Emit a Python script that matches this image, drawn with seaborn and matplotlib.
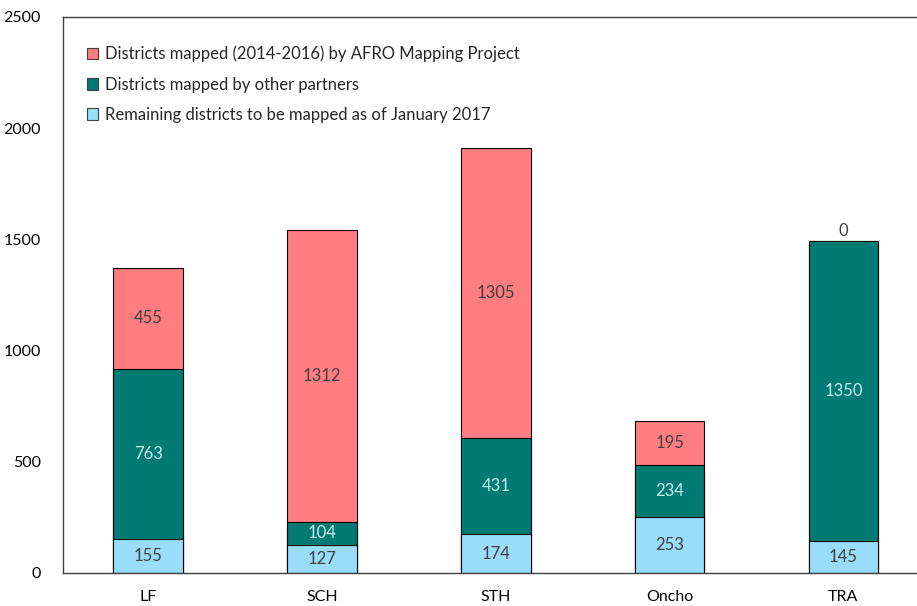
import numpy as np
import pandas as pd
import matplotlib
matplotlib.use("Agg")
import matplotlib.pyplot as plt
import seaborn as sns
from matplotlib.patches import Patch

categories = ["LF", "SCH", "STH", "Oncho", "TRA"]
remaining = [155, 127, 174, 253, 145]
partners = [763, 104, 431, 234, 1350]
afro = [455, 1312, 1305, 195, 0]

series_names = ["Districts mapped (2014-2016) by AFRO Mapping Project",
                "Districts mapped by other partners",
                "Remaining districts to be mapped as of January 2017"]
colors = ["#FF7C80", "#007A73", "#99DDFB"]
label_colors = ["#404040", "#C8F2F2", "#404040"]

sns.set_theme(style="white")
plt.rcParams['font.family'] = ['Lato', 'DejaVu Sans']

df = pd.DataFrame({"cat": categories, "remaining": remaining,
                   "partners": partners, "afro": afro})
df["c1"] = df["remaining"]
df["c2"] = df["remaining"] + df["partners"]
df["c3"] = df["c2"] + df["afro"]

fig = plt.figure(figsize=(9.17, 6.06), dpi=100)
ax = fig.add_axes([63/917, 33/606, 869/917, 556/606])

# stacked bars drawn as overlapping cumulative totals
for col, c in zip(["c3", "c2", "c1"], colors):
    sns.barplot(data=df, x="cat", y=col, color=c, width=0.4, saturation=1,
                edgecolor="black", linewidth=0.8, ax=ax, errorbar=None)

lows = [np.zeros(5), df["c1"].values, df["c2"].values]
segs = [df["remaining"].values, df["partners"].values, df["afro"].values]
lcols = [label_colors[2], label_colors[1], label_colors[0]]
for low, seg, lc in zip(lows, segs, lcols):
    for i, (b, v) in enumerate(zip(low, seg)):
        if v == 0:
            ax.text(i, b + 5, f"{v}", ha="center", va="bottom", fontsize=12, color="#404040")
        else:
            ax.text(i, b + v / 2, f"{v}", ha="center", va="center", fontsize=12, color=lc)

ax.set_xlim(-0.49, 4.51)
ax.set_ylim(0, 2500)
ax.set_yticks([0, 500, 1000, 1500, 2000, 2500])
ax.set_xlabel("")
ax.set_ylabel("")
ax.tick_params(axis="y", length=0, pad=16, labelsize=11.5, colors="black")
ax.tick_params(axis="x", length=0, pad=12, labelsize=11.5, colors="black")
for s in ax.spines.values():
    s.set_color("#404040")
    s.set_linewidth(1.0)

handles = [Patch(facecolor=c, edgecolor="#404040", linewidth=0.8) for c in colors]
ax.legend(handles, series_names, loc="upper left", bbox_to_anchor=(0.01, 0.975),
          frameon=False, fontsize=12, handlelength=0.7, handleheight=0.7,
          handletextpad=0.4, labelspacing=0.85)

fig.savefig("out.png", dpi=100)
